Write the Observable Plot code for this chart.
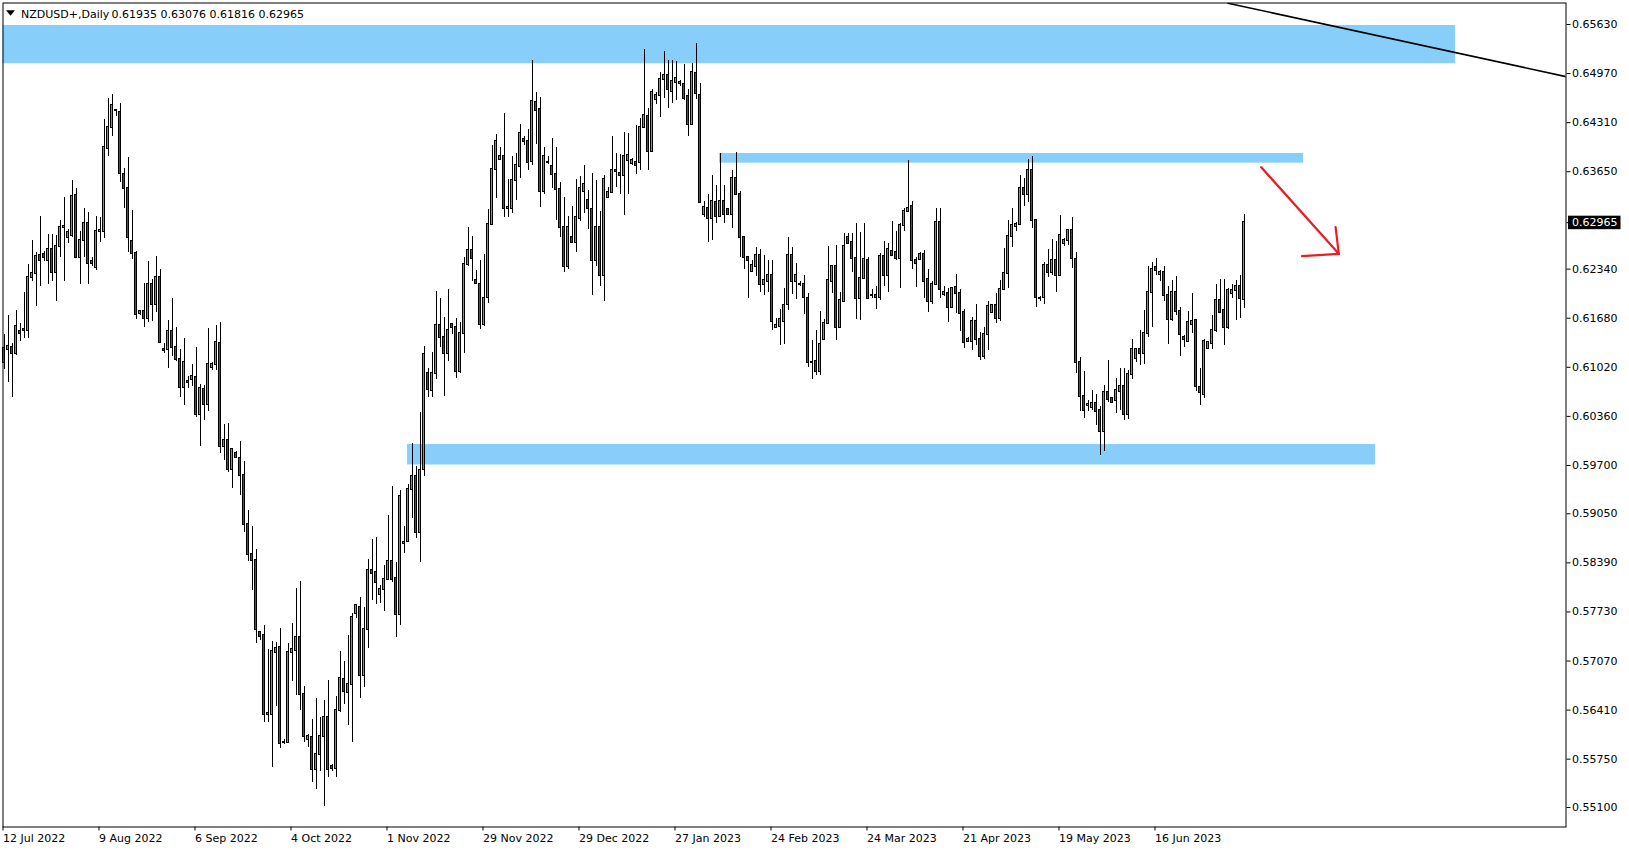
<!DOCTYPE html>
<html>
<head>
<meta charset="utf-8">
<script src="https://cdn.jsdelivr.net/npm/d3@7"></script>
<script src="https://cdn.jsdelivr.net/npm/@observablehq/plot@0.6"></script>
<style>
  html, body { margin: 0; padding: 0; background: #ffffff; }
  svg { display: block; }
</style>
</head>
<body>
<div id="chart"></div>
<script>
// ---- Data (daily bars incl. Sunday bars, index 0 = 12 Jul 2022) ----
const symbolName = "NZDUSD+,Daily";

const open = [
0.6109,0.6126,0.6129,0.6121,0.6150,0.6153,0.6151,0.6223,0.6228,0.6253,
0.6254,0.6245,0.6260,0.6229,0.6264,0.6290,0.6276,0.6279,0.6333,0.6250,
0.6272,0.6296,0.6244,0.6236,0.6284,0.6285,0.6396,0.6424,0.6448,0.6444,
0.6361,0.6343,0.6271,0.6255,0.6174,0.6177,0.6168,0.6214,0.6186,0.6223,
0.6126,0.6126,0.6150,0.6128,0.6113,0.6075,0.6083,0.6085,0.6088,0.6038,
0.6072,0.6052,0.6102,0.6106,0.6134,0.5996,0.6004,0.5964,0.5986,0.5980,
0.5957,0.5891,0.5850,0.5842,0.5745,0.5741,0.5635,0.5635,0.5719,0.5725,
0.5597,0.5597,0.5718,0.5721,0.5739,0.5662,0.5602,0.5604,0.5561,0.5581,
0.5606,0.5631,0.5565,0.5562,0.5641,0.5682,0.5665,0.5676,0.5771,0.5779,
0.5687,0.5750,0.5829,0.5826,0.5797,0.5803,0.5816,0.5841,0.5818,0.5770,
0.5865,0.5868,0.5938,0.5955,0.5880,0.5965,0.6093,0.6071,0.6093,0.6158,
0.6142,0.6120,0.6159,0.6155,0.6097,0.6148,0.6240,0.6259,0.6219,0.6214,
0.6160,0.6196,0.6294,0.6368,0.6382,0.6385,0.6316,0.6315,0.6353,0.6372,
0.6408,0.6405,0.6379,0.6458,0.6449,0.6339,0.6378,0.6372,0.6361,0.6341,
0.6290,0.6238,0.6277,0.6270,0.6302,0.6339,0.6326,0.6314,0.6245,0.6290,
0.6225,0.6330,0.6337,0.6366,0.6362,0.6360,0.6380,0.6376,0.6377,0.6377,
0.6425,0.6439,0.6392,0.6462,0.6468,0.6489,0.6494,0.6473,0.6485,0.6484,
0.6482,0.6466,0.6428,0.6497,0.6468,0.6307,0.6315,0.6302,0.6323,0.6305,
0.6325,0.6314,0.6307,0.6356,0.6334,0.6276,0.6250,0.6231,0.6237,0.6253,
0.6214,0.6217,0.6226,0.6155,0.6157,0.6164,0.6186,0.6253,0.6217,0.6214,
0.6213,0.6194,0.6109,0.6110,0.6096,0.6140,0.6161,0.6218,0.6237,0.6156,
0.6191,0.6277,0.6270,0.6248,0.6194,0.6222,0.6245,0.6198,0.6199,0.6196,
0.6251,0.6225,0.6258,0.6256,0.6248,0.6293,0.6312,0.6318,0.6246,0.6247,
0.6254,0.6220,0.6191,0.6214,0.6297,0.6200,0.6201,0.6183,0.6209,0.6201,
0.6176,0.6137,0.6137,0.6164,0.6139,0.6116,0.6146,0.6176,0.6185,0.6167,
0.6206,0.6228,0.6278,0.6292,0.6294,0.6343,0.6334,0.6367,0.6299,0.6194,
0.6196,0.6239,0.6229,0.6246,0.6226,0.6269,0.6272,0.6286,0.6247,0.6108,
0.6063,0.6051,0.6048,0.6053,0.6044,0.6016,0.6068,0.6060,0.6058,0.6070,
0.6076,0.6038,0.6092,0.6114,0.6126,0.6120,0.6148,0.6203,0.6236,0.6227,
0.6229,0.6199,0.6166,0.6202,0.6177,0.6142,0.6137,0.6160,0.6165,0.6075,
0.6066,0.6127,0.6134,0.6152,0.6192,0.6178,0.6156,0.6201,0.6205,0.6211,
0.61935
];
const high = [
0.6146,0.6172,0.6134,0.6178,0.6161,0.6202,0.6240,0.6273,0.6256,0.6305,
0.6258,0.6281,0.6281,0.6279,0.6299,0.6331,0.6287,0.6353,0.6343,0.6284,
0.6315,0.6310,0.6249,0.6305,0.6304,0.6435,0.6463,0.6469,0.6449,0.6457,
0.6370,0.6384,0.6313,0.6258,0.6179,0.6215,0.6244,0.6220,0.6251,0.6233,
0.6134,0.6165,0.6194,0.6155,0.6126,0.6141,0.6089,0.6106,0.6129,0.6079,
0.6078,0.6154,0.6109,0.6158,0.6162,0.6025,0.6026,0.5992,0.5989,0.6002,
0.5975,0.5910,0.5888,0.5857,0.5747,0.5755,0.5722,0.5733,0.5732,0.5751,
0.5602,0.5730,0.5758,0.5805,0.5814,0.5673,0.5608,0.5628,0.5657,0.5631,
0.5654,0.5681,0.5568,0.5659,0.5720,0.5706,0.5741,0.5771,0.5783,0.5792,
0.5779,0.5844,0.5870,0.5873,0.5808,0.5835,0.5903,0.5942,0.5839,0.5936,
0.5888,0.5945,0.5999,0.5969,0.6041,0.6130,0.6100,0.6122,0.6204,0.6194,
0.6169,0.6207,0.6160,0.6168,0.6162,0.6249,0.6290,0.6278,0.6232,0.6246,
0.6254,0.6314,0.6400,0.6415,0.6398,0.6443,0.6355,0.6385,0.6390,0.6428,
0.6412,0.6422,0.6515,0.6472,0.6465,0.6397,0.6385,0.6410,0.6397,0.6350,
0.6331,0.6305,0.6318,0.6355,0.6359,0.6373,0.6340,0.6362,0.6353,0.6311,
0.6360,0.6344,0.6412,0.6389,0.6388,0.6418,0.6416,0.6383,0.6427,0.6437,
0.6530,0.6450,0.6475,0.6472,0.6499,0.6527,0.6514,0.6515,0.6513,0.6488,
0.6509,0.6475,0.6510,0.6538,0.6483,0.6325,0.6334,0.6360,0.6347,0.6390,
0.6347,0.6315,0.6367,0.6391,0.6339,0.6278,0.6251,0.6246,0.6263,0.6261,
0.6252,0.6245,0.6245,0.6167,0.6180,0.6208,0.6276,0.6263,0.6242,0.6217,
0.6226,0.6201,0.6138,0.6152,0.6177,0.6166,0.6264,0.6238,0.6266,0.6203,
0.6282,0.6282,0.6282,0.6296,0.6283,0.6295,0.6250,0.6206,0.6211,0.6255,
0.6271,0.6268,0.6298,0.6285,0.6295,0.6315,0.6380,0.6325,0.6249,0.6256,
0.6259,0.6234,0.6217,0.6315,0.6315,0.6211,0.6208,0.6209,0.6227,0.6206,
0.6180,0.6142,0.6169,0.6187,0.6149,0.6156,0.6190,0.6187,0.6201,0.6219,
0.6262,0.6299,0.6315,0.6297,0.6360,0.6356,0.6382,0.6386,0.6300,0.6197,
0.6243,0.6260,0.6274,0.6271,0.6306,0.6275,0.6287,0.6303,0.6256,0.6115,
0.6096,0.6057,0.6071,0.6066,0.6049,0.6078,0.6111,0.6062,0.6087,0.6100,
0.6100,0.6098,0.6139,0.6127,0.6152,0.6178,0.6237,0.6243,0.6248,0.6232,
0.6238,0.6210,0.6219,0.6224,0.6183,0.6145,0.6177,0.6201,0.6166,0.6101,
0.6140,0.6137,0.6171,0.6213,0.6220,0.6220,0.6208,0.6213,0.6219,0.6225,
0.63076
];
const low = [
0.6099,0.6081,0.6061,0.6118,0.6137,0.6141,0.6141,0.6217,0.6184,0.6211,
0.6244,0.6214,0.6218,0.6191,0.6250,0.6217,0.6269,0.6277,0.6248,0.6213,
0.6250,0.6213,0.6237,0.6232,0.6270,0.6275,0.6385,0.6412,0.6439,0.6350,
0.6316,0.6256,0.6247,0.6166,0.6172,0.6156,0.6162,0.6163,0.6176,0.6134,
0.6121,0.6101,0.6116,0.6110,0.6061,0.6050,0.6073,0.6076,0.6035,0.5996,
0.6031,0.6043,0.6098,0.6098,0.5986,0.5976,0.5961,0.5939,0.5979,0.5929,
0.5880,0.5841,0.5802,0.5730,0.5734,0.5624,0.5624,0.5564,0.5646,0.5590,
0.5595,0.5596,0.5679,0.5660,0.5640,0.5597,0.5591,0.5543,0.5534,0.5559,
0.5511,0.5550,0.5558,0.5550,0.5638,0.5648,0.5620,0.5598,0.5764,0.5656,
0.5671,0.5724,0.5788,0.5783,0.5785,0.5774,0.5815,0.5812,0.5739,0.5755,
0.5851,0.5867,0.5898,0.5872,0.5840,0.5955,0.6062,0.6061,0.6085,0.6129,
0.6063,0.6110,0.6146,0.6087,0.6094,0.6120,0.6237,0.6217,0.6213,0.6153,
0.6157,0.6188,0.6293,0.6329,0.6380,0.6303,0.6303,0.6309,0.6326,0.6356,
0.6400,0.6366,0.6373,0.6402,0.6317,0.6334,0.6375,0.6343,0.6300,0.6277,
0.6230,0.6233,0.6268,0.6257,0.6298,0.6309,0.6287,0.6199,0.6237,0.6211,
0.6190,0.6330,0.6336,0.6344,0.6335,0.6306,0.6335,0.6373,0.6361,0.6366,
0.6424,0.6366,0.6391,0.6455,0.6438,0.6463,0.6450,0.6457,0.6461,0.6479,
0.6461,0.6412,0.6428,0.6462,0.6322,0.6303,0.6270,0.6273,0.6296,0.6303,
0.6296,0.6307,0.6289,0.6333,0.6250,0.6233,0.6194,0.6230,0.6224,0.6202,
0.6199,0.6203,0.6151,0.6155,0.6131,0.6132,0.6178,0.6200,0.6193,0.6210,
0.6173,0.6102,0.6085,0.6091,0.6091,0.6140,0.6159,0.6201,0.6138,0.6155,
0.6189,0.6268,0.6230,0.6166,0.6165,0.6221,0.6193,0.6194,0.6180,0.6192,
0.6211,0.6203,0.6252,0.6246,0.6208,0.6284,0.6311,0.6233,0.6209,0.6245,
0.6194,0.6176,0.6187,0.6213,0.6194,0.6197,0.6162,0.6182,0.6174,0.6150,
0.6127,0.6136,0.6125,0.6131,0.6111,0.6113,0.6124,0.6174,0.6161,0.6164,
0.6205,0.6208,0.6263,0.6284,0.6293,0.6318,0.6324,0.6289,0.6182,0.6191,
0.6187,0.6223,0.6226,0.6203,0.6225,0.6265,0.6266,0.6235,0.6093,0.6043,
0.6033,0.6042,0.6044,0.6024,0.5984,0.5989,0.6054,0.6053,0.6040,0.6044,
0.6030,0.6032,0.6085,0.6109,0.6105,0.6106,0.6142,0.6155,0.6225,0.6218,
0.6191,0.6133,0.6163,0.6172,0.6117,0.6129,0.6137,0.6147,0.6069,0.6050,
0.6060,0.6126,0.6126,0.6149,0.6175,0.6131,0.6153,0.6194,0.6165,0.6167,
0.61816
];
const close = [
0.6127,0.6130,0.6121,0.6157,0.6147,0.6152,0.6223,0.6228,0.6251,0.6245,
0.6249,0.6260,0.6229,0.6265,0.6290,0.6291,0.6283,0.6332,0.6250,0.6272,
0.6296,0.6241,0.6241,0.6285,0.6286,0.6397,0.6424,0.6454,0.6447,0.6362,
0.6343,0.6276,0.6255,0.6173,0.6177,0.6167,0.6214,0.6186,0.6223,0.6136,
0.6124,0.6150,0.6128,0.6113,0.6075,0.6108,0.6081,0.6090,0.6038,0.6073,
0.6052,0.6106,0.6106,0.6135,0.5996,0.6004,0.5964,0.5991,0.5981,0.5957,
0.5891,0.5850,0.5842,0.5749,0.5740,0.5635,0.5636,0.5720,0.5724,0.5596,
0.5598,0.5718,0.5722,0.5739,0.5662,0.5605,0.5606,0.5561,0.5581,0.5606,
0.5631,0.5561,0.5562,0.5641,0.5683,0.5666,0.5676,0.5765,0.5782,0.5687,
0.5750,0.5829,0.5825,0.5813,0.5803,0.5816,0.5841,0.5817,0.5770,0.5928,
0.5866,0.5938,0.5955,0.5880,0.5963,0.6119,0.6072,0.6093,0.6158,0.6142,
0.6120,0.6152,0.6155,0.6097,0.6148,0.6240,0.6259,0.6248,0.6215,0.6160,
0.6195,0.6294,0.6368,0.6405,0.6386,0.6316,0.6317,0.6353,0.6373,0.6416,
0.6405,0.6378,0.6459,0.6448,0.6339,0.6385,0.6377,0.6361,0.6341,0.6290,
0.6238,0.6290,0.6270,0.6303,0.6342,0.6348,0.6315,0.6245,0.6290,0.6225,
0.6354,0.6337,0.6367,0.6365,0.6360,0.6386,0.6387,0.6380,0.6374,0.6424,
0.6441,0.6392,0.6471,0.6467,0.6489,0.6494,0.6475,0.6486,0.6491,0.6485,
0.6464,0.6429,0.6498,0.6470,0.6323,0.6317,0.6302,0.6325,0.6305,0.6325,
0.6308,0.6308,0.6356,0.6334,0.6277,0.6250,0.6246,0.6239,0.6253,0.6214,
0.6219,0.6226,0.6164,0.6158,0.6166,0.6185,0.6253,0.6217,0.6226,0.6213,
0.6196,0.6108,0.6108,0.6096,0.6132,0.6161,0.6219,0.6237,0.6156,0.6192,
0.6265,0.6269,0.6248,0.6194,0.6222,0.6247,0.6194,0.6199,0.6196,0.6251,
0.6225,0.6261,0.6253,0.6248,0.6293,0.6312,0.6316,0.6246,0.6241,0.6254,
0.6218,0.6191,0.6214,0.6297,0.6207,0.6202,0.6183,0.6208,0.6201,0.6175,
0.6135,0.6140,0.6164,0.6139,0.6116,0.6146,0.6184,0.6185,0.6167,0.6206,
0.6228,0.6278,0.6293,0.6294,0.6343,0.6334,0.6367,0.6299,0.6196,0.6195,
0.6239,0.6229,0.6246,0.6226,0.6279,0.6272,0.6286,0.6248,0.6108,0.6063,
0.6044,0.6052,0.6053,0.6042,0.6016,0.6068,0.6059,0.6055,0.6071,0.6076,
0.6038,0.6092,0.6126,0.6126,0.6121,0.6148,0.6203,0.6234,0.6232,0.6229,
0.6198,0.6166,0.6202,0.6177,0.6146,0.6139,0.6162,0.6164,0.6076,0.6068,
0.6137,0.6135,0.6152,0.6192,0.6176,0.6156,0.6205,0.6205,0.6211,0.6194,
0.62965
];

// Time axis labels (bar index of each label)
const dateLabels = ["12 Jul 2022","9 Aug 2022","6 Sep 2022","4 Oct 2022","1 Nov 2022","29 Nov 2022",
  "29 Dec 2022","27 Jan 2023","24 Feb 2023","24 Mar 2023","21 Apr 2023","19 May 2023","16 Jun 2023"];
const dateBars = [0,24,48,72,96,120,144,168,192,216,240,264,288];

// Price axis labels
const priceTicks = [0.65630,0.64970,0.64310,0.63650,0.62340,0.61680,0.61020,0.60360,
  0.59700,0.59050,0.58390,0.57730,0.57070,0.56410,0.55750,0.55100];

// Drawn objects (bar index / price)
const zoneStart = [-10, 178.9, 100.9];
const zoneEnd   = [362.9, 324.9, 342.9];
const zoneHigh  = [0.65617, 0.63895, 0.59982];
const zoneLow   = [0.65102, 0.63765, 0.59706];

const trendBars   = [306, 390.5];
const trendPrices = [0.65916, 0.64929];

const arrowBars   = [314.3, 333.7];
const arrowPrices = [0.63711, 0.62546];
const headABars   = [324.5, 333.7];
const headAPrices = [0.62514, 0.62546];
const headBBars   = [332.9, 333.7];
const headBPrices = [0.62904, 0.62546];

// ---- Build ----
const bull = "#2bd02b", bear = "#d81818", zoneColor = "#87CEFA", arrowColor = "#ec1c24";
const candles = open.map((o, i) => ({i, o, h: high[i], l: low[i], c: close[i]}));
const zones = zoneStart.map((s, k) => ({s, e: zoneEnd[k], hi: zoneHigh[k], lo: zoneLow[k]}));
const pts = (xs, ys) => xs.map((x, k) => ({x, y: ys[k]}));
const last = candles[candles.length - 1];
const fmt = d3.format(".5f");

const triSymbol = {draw(ctx) { ctx.moveTo(-4.4, -2.7); ctx.lineTo(4.4, -2.7); ctx.lineTo(0, 2.7); ctx.closePath(); }};

const plot = Plot.plot({
  width: 1629,
  height: 850,
  marginLeft: 2.5,
  marginRight: 63.5,
  marginTop: 2.5,
  marginBottom: 23.5,
  style: {fontFamily: "DejaVu Sans", fontSize: "11px", color: "black", background: "white"},
  x: {type: "linear", domain: [-0.25, 390.5]},
  y: {domain: [0.54838, 0.65919]},
  marks: [
    Plot.rect(zones, {x1: "s", x2: "e", y1: "lo", y2: "hi", fill: zoneColor, clip: true}),
    Plot.ruleX(candles, {x: "i", y1: "l", y2: "h", stroke: "black", strokeWidth: 1, shapeRendering: "crispEdges"}),
    Plot.rect(candles, {
      x1: d => d.i - 0.25, x2: d => d.i + 0.25,
      y1: d => Math.min(d.o, d.c), y2: d => Math.max(d.o, d.c),
      insetTop: -0.5, insetBottom: -0.5,
      fill: d => d.c > d.o ? bull : d.c < d.o ? bear : "black",
      stroke: "black", strokeWidth: 1, shapeRendering: "crispEdges"
    }),
    Plot.line(pts(trendBars, trendPrices), {x: "x", y: "y", stroke: "black", strokeWidth: 1.6, clip: true}),
    Plot.line(pts(arrowBars, arrowPrices), {x: "x", y: "y", stroke: arrowColor, strokeWidth: 2.2}),
    Plot.line(pts(headABars, headAPrices), {x: "x", y: "y", stroke: arrowColor, strokeWidth: 2.2}),
    Plot.line(pts(headBBars, headBPrices), {x: "x", y: "y", stroke: arrowColor, strokeWidth: 2.2}),
    Plot.frame({stroke: "black", strokeWidth: 1}),
    Plot.axisY(priceTicks, {anchor: "right", tickSize: 4, tickPadding: 2, tickFormat: fmt, fill: "black"}),
    Plot.axisY([last.c], {anchor: "right", tickSize: 4, tickPadding: 2, tickFormat: fmt, fill: "white"}),
    Plot.axisX(dateBars, {anchor: "bottom", tickSize: 4, tickPadding: 3, textAnchor: "start", dx: -1,
      tickFormat: d => dateLabels[dateBars.indexOf(d)], fill: "black"}),
    Plot.dot([0], {frameAnchor: "top-left", dx: 7.5, dy: 10, symbol: triSymbol, r: 4, fill: "black", stroke: "none"}),
    Plot.text([symbolName], {frameAnchor: "top-left", dx: 18, dy: 7, textAnchor: "start", lineAnchor: "top", fill: "black"}),
    Plot.text([[last.o, last.h, last.l, last.c].map(fmt).join(" ")], {frameAnchor: "top-left", dx: 108.5, dy: 7, textAnchor: "start", lineAnchor: "top", fill: "black"})
  ]
});

document.getElementById("chart").appendChild(plot);

// black background box behind the current-price label on the price axis
const curLabel = fmt(last.c);
d3.select(plot).selectAll("text").filter(function() {
  return this.textContent === curLabel && this.getAttribute("fill") === "white" ||
         (this.textContent === curLabel && d3.select(this.parentNode).attr("fill") === "white");
}).each(function() {
  const b = this.getBBox();
  const t = this.getAttribute("transform");
  const r = d3.select(this.parentNode).insert("rect", ":first-child")
    .attr("x", b.x - 4).attr("y", b.y - 0.5)
    .attr("width", b.width + 7).attr("height", b.height + 0.5)
    .attr("fill", "black");
  if (t) r.attr("transform", t);
});
</script>
</body>
</html>
